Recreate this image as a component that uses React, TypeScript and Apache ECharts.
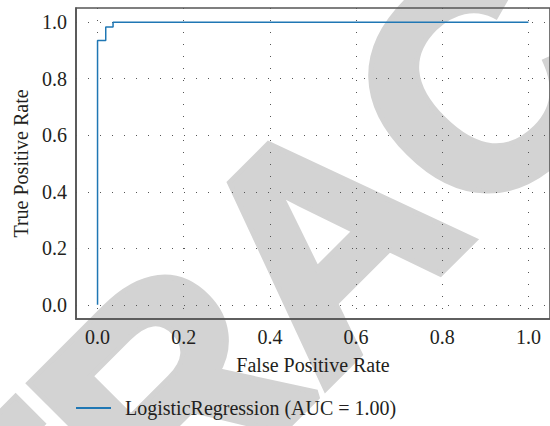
import React, { useEffect, useRef } from "react";
import * as echarts from "echarts";

// ROC curve points
const fpr = [0, 0, 0.019, 0.019, 0.036, 0.036, 1.0];
const tpr = [0, 0.935, 0.935, 0.983, 0.983, 1.0, 1.0];
const tickValues = [0, 0.2, 0.4, 0.6, 0.8, 1.0];
const seriesName = "LogisticRegression (AUC = 1.00)";
const xTitle = "False Positive Rate";
const yTitle = "True Positive Rate";
const watermark = "RETRACTED";

const FONT = "Liberation Serif";
const TEXT = "#231f20";
const FRAME = "#555555";

export default function App() {
  const ref = useRef<HTMLDivElement>(null);
  useEffect(() => {
    document.body.style.margin = "0";
    if (!ref.current) return;
    const chart = echarts.init(ref.current, null, { renderer: "svg" });
    const data = fpr.map((x, i) => [x, tpr[i]]);
    const splitLine = {
      show: true,
      lineStyle: { type: [1, 11] as any, color: "#555", width: 1 },
    };
    chart.setOption({
      animation: false,
      backgroundColor: "#ffffff",
      grid: {
        left: 76,
        top: 8,
        width: 484,
        height: 311,
        show: true,
        borderColor: FRAME,
        borderWidth: 1.6,
        backgroundColor: "transparent",
      },
      graphic: [
        {
          type: "text",
          z: -100,
          x: 324,
          y: 238,
          rotation: Math.PI / 4,
          silent: true,
          style: {
            text: watermark,
            fill: "#d3d3d3",
            stroke: "#d3d3d3",
            lineWidth: 10,
            font: "bold 304px 'Liberation Sans', Arial, sans-serif",
            textAlign: "center",
            textVerticalAlign: "middle",
            align: "center",
            verticalAlign: "middle",
          },
        },
      ],
      legend: {
        left: 76,
        top: 398,
        padding: 0,
        itemWidth: 35,
        itemHeight: 2,
        icon: "rect",
        textStyle: { fontFamily: FONT, fontSize: 20, color: TEXT, padding: [0, 0, 0, 9] },
        data: [{ name: seriesName, itemStyle: { color: "#1f77b4" } }],
      },
      xAxis: {
        type: "value",
        min: -0.05,
        max: 1.05,
        name: xTitle,
        nameLocation: "middle",
        nameGap: 36,
        nameTextStyle: { fontFamily: FONT, fontSize: 20, color: TEXT },
        axisLine: { show: true, onZero: false, lineStyle: { color: FRAME, width: 1.6 } },
        axisTick: { show: false, customValues: tickValues },
        axisLabel: {
          customValues: tickValues,
          formatter: (v: number) => v.toFixed(1),
          fontFamily: FONT,
          fontSize: 20,
          color: TEXT,
          margin: 8,
        },
        splitLine,
      },
      yAxis: {
        type: "value",
        min: -0.05,
        max: 1.05,
        name: yTitle,
        nameLocation: "middle",
        nameGap: 44,
        nameTextStyle: { fontFamily: FONT, fontSize: 20, color: TEXT },
        axisLine: { show: true, onZero: false, lineStyle: { color: FRAME, width: 1.6 } },
        axisTick: { show: false, customValues: tickValues },
        axisLabel: {
          customValues: tickValues,
          formatter: (v: number) => v.toFixed(1),
          fontFamily: FONT,
          fontSize: 20,
          color: TEXT,
          margin: 9,
        },
        splitLine,
      },
      series: [
        {
          name: seriesName,
          type: "line",
          data,
          symbol: "none",
          z: 5,
          lineStyle: { color: "#1f77b4", width: 1.5 },
          itemStyle: { color: "#1f77b4" },
        },
      ],
    });
    return () => chart.dispose();
  }, []);
  return (
    <div
      ref={ref}
      style={{ position: "absolute", left: 0, top: 0, width: 550, height: 426 }}
    />
  );
}
